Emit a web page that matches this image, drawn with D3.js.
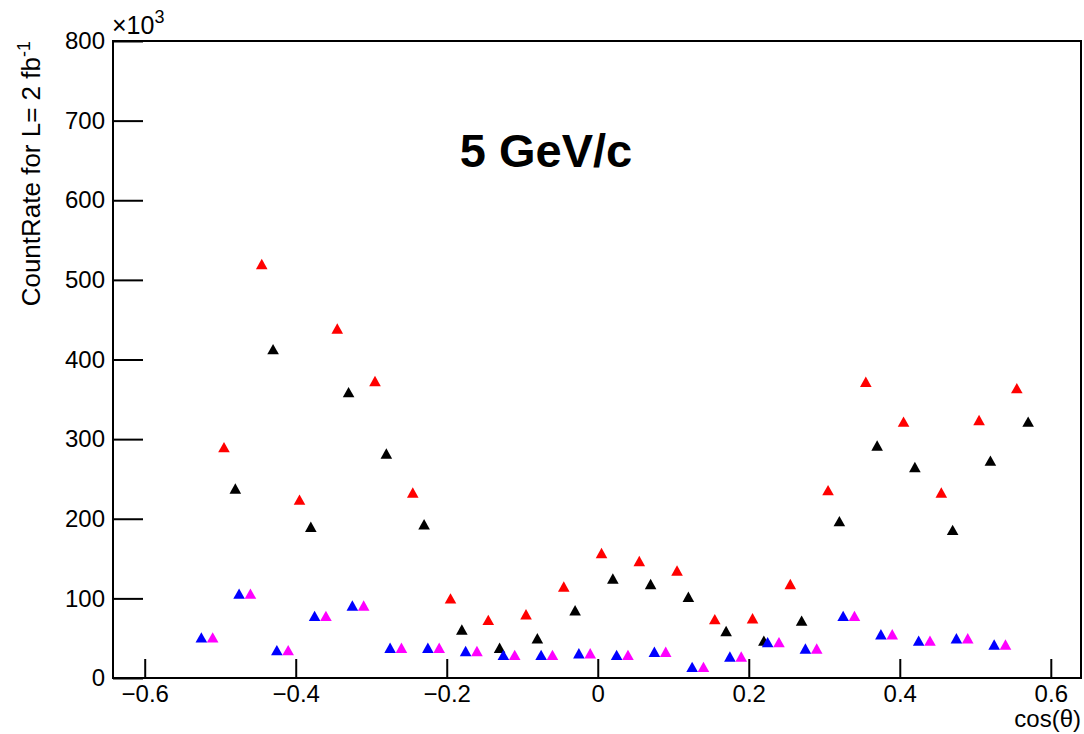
<!DOCTYPE html>
<html>
<head>
<meta charset="utf-8">
<script src="https://cdn.jsdelivr.net/npm/d3@7"></script>
<style>
  body { margin: 0; background: #fff; }
  text { font-family: "Liberation Sans", Arial, sans-serif; }
</style>
</head>
<body>
<svg width="1084" height="734"></svg>
<script>
// values in units of 10^3 counts
var redX   = [-0.495, -0.445, -0.395, -0.345, -0.295, -0.245, -0.195, -0.145, -0.095, -0.045, 0.005,
              0.055, 0.105, 0.155, 0.205, 0.255, 0.305, 0.355, 0.405, 0.455, 0.505, 0.555];
var redY   = [290, 520, 224, 439, 373, 233, 100, 73, 80, 115, 157,
              147, 135, 74, 75, 118, 236, 372, 322, 233, 324, 364];

var blackX = [-0.48, -0.43, -0.38, -0.33, -0.28, -0.23, -0.18, -0.13, -0.08, -0.03, 0.02,
              0.07, 0.12, 0.17, 0.22, 0.27, 0.32, 0.37, 0.42, 0.47, 0.52, 0.57];
var blackY = [238, 413, 190, 359, 282, 193, 61, 38, 50, 85, 125,
              118, 102, 59, 47, 72, 197, 292, 265, 186, 273, 322];

var blueX  = [-0.525, -0.475, -0.425, -0.375, -0.325, -0.275, -0.225, -0.175, -0.125, -0.075, -0.025,
              0.025, 0.075, 0.125, 0.175, 0.225, 0.275, 0.325, 0.375, 0.425, 0.475, 0.525];
var blueY  = [51, 106, 35, 78, 91, 38, 38, 34, 29, 29, 31,
              29, 33, 14, 27, 45, 37, 78, 55, 47, 50, 42];

var magX   = [-0.51, -0.46, -0.41, -0.36, -0.31, -0.26, -0.21, -0.16, -0.11, -0.06, -0.01,
              0.04, 0.09, 0.14, 0.19, 0.24, 0.29, 0.34, 0.39, 0.44, 0.49, 0.54];
var magY   = [51, 106, 35, 78, 91, 38, 38, 34, 29, 29, 31,
              29, 33, 14, 27, 45, 37, 78, 55, 47, 50, 42];

var xMajor = [-0.6, -0.4, -0.2, 0, 0.2, 0.4, 0.6];
var xMinor = [-0.6, -0.55, -0.5, -0.45, -0.4, -0.35, -0.3, -0.25, -0.2, -0.15, -0.1, -0.05, 0,
              0.05, 0.1, 0.15, 0.2, 0.25, 0.3, 0.35, 0.4, 0.45, 0.5, 0.55, 0.6];
var yMajor = [0, 100, 200, 300, 400, 500, 600, 700, 800];
var yMinor = d3.range(0, 801, 20);

var series = [
  {x: redX,   y: redY,   color: "#ff0000"},
  {x: blackX, y: blackY, color: "#000000"},
  {x: blueX,  y: blueY,  color: "#0000ff"},
  {x: magX,   y: magY,   color: "#ff00ff"}
];

var svg = d3.select("svg");
var padL = 113, padR = 1081, padT = 41, padB = 678;

var x = d3.scaleLinear().domain([-0.642, 0.640]).range([padL, padR]);
var y = d3.scaleLinear().domain([0, 800]).range([padB, padT]);

// x axis (ticks point inward)
var gx = svg.append("g").attr("transform", "translate(0," + padB + ")");
gx.call(d3.axisBottom(x).tickValues(xMinor).tickSize(-10).tickFormat(""));
gx.call(d3.axisBottom(x).tickValues(xMajor).tickSize(-19).tickPadding(7)
    .tickFormat(function(d) { return d === 0 ? "0" : d3.format(".1f")(d); }));
gx.selectAll(".domain").remove();
gx.selectAll("line").attr("stroke", "#000").attr("stroke-width", 2);
gx.selectAll("text").attr("font-size", 24).attr("fill", "#000")
    .attr("font-family", "Liberation Sans, Arial, sans-serif");

// y axis
var gy = svg.append("g").attr("transform", "translate(" + padL + ",0)");
gy.call(d3.axisLeft(y).tickValues(yMinor).tickSize(-14).tickFormat(""));
gy.call(d3.axisLeft(y).tickValues(yMajor).tickSize(-30).tickPadding(8));
gy.selectAll(".domain").remove();
gy.selectAll("line").attr("stroke", "#000").attr("stroke-width", 2);
gy.selectAll("text").attr("font-size", 24).attr("fill", "#000")
    .attr("font-family", "Liberation Sans, Arial, sans-serif");

// frame
svg.append("rect")
    .attr("x", padL).attr("y", padT)
    .attr("width", padR - padL).attr("height", padB - padT)
    .attr("fill", "none").attr("stroke", "#000").attr("stroke-width", 2);

// triangle marker centred on its bounding box
var tri = {
  draw: function(ctx, size) {
    var w = 5.8, h = 5.2;
    ctx.moveTo(0, -h);
    ctx.lineTo(w, h);
    ctx.lineTo(-w, h);
    ctx.closePath();
  }
};
var sym = d3.symbol().type(tri);

series.forEach(function(s) {
  svg.append("g").selectAll("path")
    .data(s.x.map(function(v, i) { return [v, s.y[i]]; }))
    .enter().append("path")
      .attr("d", sym)
      .attr("fill", s.color)
      .attr("transform", function(d) { return "translate(" + x(d[0]) + "," + y(d[1]) + ")"; });
});

// exponent
var ex = svg.append("text").attr("x", padL - 1).attr("y", 34).attr("font-size", 25);
ex.append("tspan").text("\u00d710");
ex.append("tspan").attr("dy", -11).attr("font-size", 18).text("3");

// axis titles
svg.append("text")
    .attr("x", padR).attr("y", 727)
    .attr("text-anchor", "end").attr("font-size", 24)
    .text("cos(\u03b8)");

var yl = svg.append("text")
    .attr("transform", "translate(40,41) rotate(-90)")
    .attr("text-anchor", "end").attr("font-size", 26);
yl.append("tspan").text("CountRate for L= 2 fb");
yl.append("tspan").attr("dy", -10).attr("font-size", 18).text("-1");

// title
svg.append("text")
    .attr("x", 546).attr("y", 167)
    .attr("text-anchor", "middle").attr("font-size", 47).attr("font-weight", "bold")
    .text("5 GeV/c");
</script>
</body>
</html>
